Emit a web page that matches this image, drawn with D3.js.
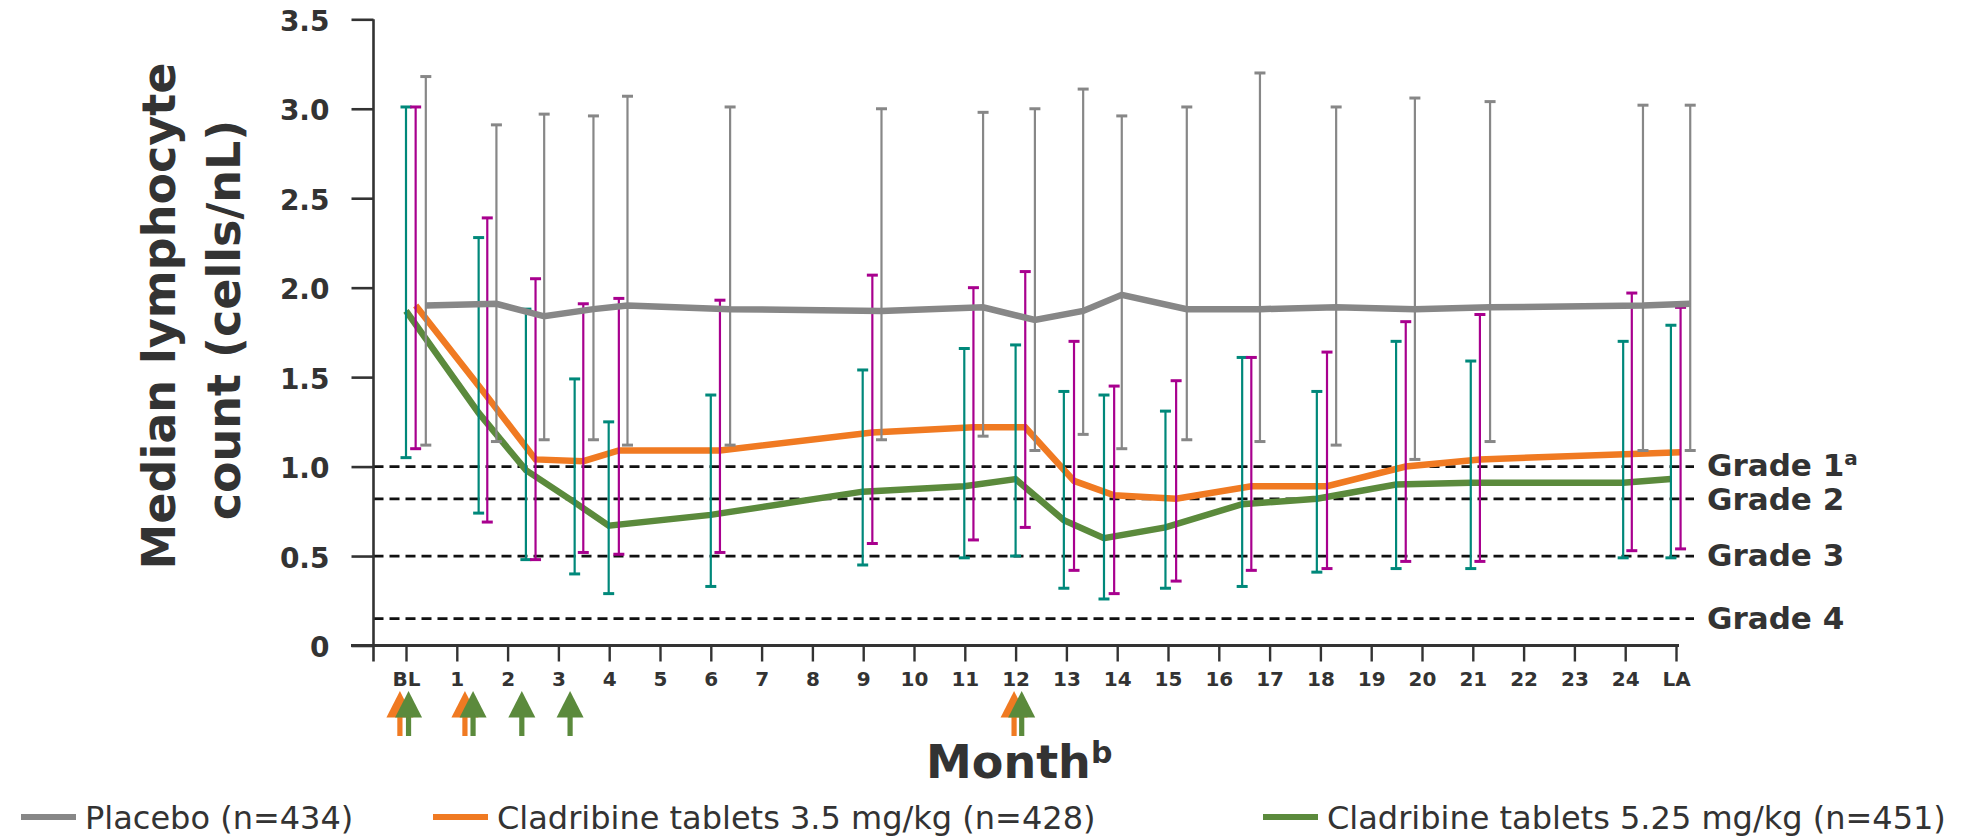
<!DOCTYPE html>
<html>
<head>
<meta charset="utf-8">
<script src="https://cdn.jsdelivr.net/npm/d3@7/dist/d3.min.js"></script>
<style>
  html, body { margin: 0; padding: 0; background: #fff; }
  svg { display: block; }
  text { font-family: "DejaVu Sans", Verdana, sans-serif; fill: #333; }
</style>
</head>
<body>
<svg id="chart" width="1964" height="837"></svg>
<script>
// Month axis: BL = 0, months 1..24, LA (last assessment) = 25
const monthTickValues = d3.range(0, 26);
const monthTickLabels = ["BL", "1", "2", "3", "4", "5", "6", "7", "8", "9", "10", "11", "12",
  "13", "14", "15", "16", "17", "18", "19", "20", "21", "22", "23", "24", "LA"];
const yTickValues = [0, 0.5, 1.0, 1.5, 2.0, 2.5, 3.0, 3.5];
const yTickLabels = ["0", "0.5", "1.0", "1.5", "2.0", "2.5", "3.0", "3.5"];

// Placebo (n=434)
const placeboMonths = [0.39, 1.78, 2.72, 3.69, 4.36, 6.38, 9.36, 11.36, 12.38, 13.33, 14.09, 15.37, 16.81, 18.31, 19.86, 21.34, 24.35, 25.28];
const placeboMedian = [1.90, 1.91, 1.84, 1.88, 1.90, 1.88, 1.87, 1.89, 1.82, 1.87, 1.96, 1.88, 1.88, 1.89, 1.88, 1.89, 1.90, 1.91];
const placeboLow    = [1.12, 1.14, 1.15, 1.15, 1.12, 1.12, 1.15, 1.17, 1.09, 1.18, 1.10, 1.15, 1.14, 1.12, 1.04, 1.14, 1.09, 1.09];
const placeboHigh   = [3.18, 2.91, 2.97, 2.96, 3.07, 3.01, 3.00, 2.98, 3.00, 3.11, 2.96, 3.01, 3.20, 3.01, 3.06, 3.04, 3.02, 3.02];

// Cladribine tablets 3.5 mg/kg (n=428)
const clad35Months = [0.19, 1.60, 2.55, 3.49, 4.19, 6.18, 9.18, 11.17, 12.19, 13.15, 13.94, 15.16, 16.64, 18.13, 19.68, 21.14, 24.13, 25.09];
const clad35Median = [1.90, 1.39, 1.04, 1.03, 1.09, 1.09, 1.19, 1.22, 1.22, 0.92, 0.84, 0.82, 0.89, 0.89, 1.00, 1.04, 1.07, 1.08];
const clad35Low    = [1.10, 0.69, 0.48, 0.52, 0.51, 0.52, 0.57, 0.59, 0.66, 0.42, 0.29, 0.36, 0.42, 0.43, 0.47, 0.47, 0.53, 0.54];
const clad35High   = [3.01, 2.39, 2.05, 1.91, 1.94, 1.93, 2.07, 2.00, 2.09, 1.70, 1.45, 1.48, 1.61, 1.64, 1.81, 1.85, 1.97, 1.89];

// Cladribine tablets 5.25 mg/kg (n=451)
const clad525Months = [0.0, 1.43, 2.36, 3.32, 3.99, 6.00, 8.99, 10.99, 12.0, 12.95, 13.74, 14.95, 16.46, 17.93, 19.49, 20.96, 23.96, 24.90];
const clad525Median = [1.87, 1.30, 0.98, 0.80, 0.67, 0.73, 0.86, 0.89, 0.93, 0.70, 0.60, 0.66, 0.79, 0.82, 0.90, 0.91, 0.91, 0.93];
const clad525Low    = [1.05, 0.74, 0.48, 0.40, 0.29, 0.33, 0.45, 0.49, 0.50, 0.32, 0.26, 0.32, 0.33, 0.41, 0.43, 0.43, 0.49, 0.49];
const clad525High   = [3.01, 2.28, 1.88, 1.49, 1.25, 1.40, 1.54, 1.66, 1.68, 1.42, 1.40, 1.31, 1.61, 1.42, 1.70, 1.59, 1.70, 1.79];

// Dosing arrows (months)
const clad35Doses = [-0.12, 1.16, 11.97];
const clad525Doses = [0.05, 1.32, 2.28, 3.23, 12.12];

// Lymphopenia grade thresholds (cells/nL)
const gradeLevels = [1.0, 0.82, 0.5, 0.15];
const gradeLabels = ["Grade 1", "Grade 2", "Grade 3", "Grade 4"];
const gradeMarks  = ["a", "", "", ""];
const gradeNudge  = [-1, 1, 0, 0];

const legendLabels = ["Placebo (n=434)", "Cladribine tablets 3.5 mg/kg (n=428)", "Cladribine tablets 5.25 mg/kg (n=451)"];

const colors = {
  placebo: "#878787",
  clad35: "#F07A22",
  clad525: "#5B8A3C",
  bar35: "#A8008E",
  bar525: "#00887A",
  ink: "#333333"
};

const svg = d3.select("#chart");
svg.append("rect").attr("width", 1964).attr("height", 837).attr("fill", "#fff");

const x = d3.scaleLinear().domain([0, 25]).range([406, 1676]);
const y = d3.scaleLinear().domain([0, 3.5]).range([645.5, 19.3]);
const axisLeftX = 373.5;

// Grade reference lines
const grades = svg.append("g");
grades.selectAll("line").data(gradeLevels).join("line")
  .attr("x1", axisLeftX).attr("x2", 1694)
  .attr("y1", d => y(d)).attr("y2", d => y(d))
  .attr("stroke", "#111").attr("stroke-width", 2.8)
  .attr("stroke-dasharray", "10,6");
const gl = grades.selectAll("text").data(gradeLevels).join("text")
  .attr("x", 1707).attr("y", (d, i) => y(d) + 10 + gradeNudge[i])
  .attr("font-size", 31).attr("font-weight", "bold");
gl.append("tspan").text((d, i) => gradeLabels[i]);
gl.append("tspan").attr("font-size", 20).attr("dy", -11).text((d, i) => gradeMarks[i]);

// Median lines
const line = d3.line().x(d => x(d[0])).y(d => y(d[1]));
function drawLine(months, med, color) {
  svg.append("path")
    .attr("d", line(months.map((m, i) => [m, med[i]])))
    .attr("fill", "none").attr("stroke", color)
    .attr("stroke-width", 6.5).attr("stroke-linejoin", "miter");
}

// Error bars (range whiskers with caps)
function drawBars(months, low, high, color) {
  const g = svg.append("g").attr("stroke", color);
  const d = months.map((m, i) => ({ m, lo: low[i], hi: high[i] }));
  g.selectAll("line.v").data(d).join("line").attr("class", "v")
    .attr("x1", e => x(e.m)).attr("x2", e => x(e.m))
    .attr("y1", e => y(e.lo)).attr("y2", e => y(e.hi))
    .attr("stroke-width", 2.2);
  ["lo", "hi"].forEach(k => {
    g.selectAll("line.c" + k).data(d).join("line").attr("class", "c" + k)
      .attr("x1", e => x(e.m) - 5.5).attr("x2", e => x(e.m) + 5.5)
      .attr("y1", e => y(e[k])).attr("y2", e => y(e[k]))
      .attr("stroke-width", 3);
  });
}

drawLine(clad35Months, clad35Median, colors.clad35);
drawLine(clad525Months, clad525Median, colors.clad525);
drawBars(clad525Months, clad525Low, clad525High, colors.bar525);
drawBars(clad35Months, clad35Low, clad35High, colors.bar35);
drawBars(placeboMonths, placeboLow, placeboHigh, colors.placebo);
drawLine(placeboMonths, placeboMedian, colors.placebo);

// Y axis
const yAxis = svg.append("g").attr("transform", `translate(${axisLeftX},0)`)
  .call(d3.axisLeft(y).tickValues(yTickValues).tickSize(22).tickPadding(22)
    .tickFormat((d, i) => yTickLabels[i]));
yAxis.select(".domain").remove();
yAxis.selectAll(".tick line").attr("stroke", colors.ink).attr("stroke-width", 2.6);
yAxis.selectAll(".tick text").attr("font-size", 28).attr("font-weight", "bold")
  .attr("font-family", "DejaVu Sans, sans-serif").attr("fill", colors.ink).attr("dy", "0.4em");
svg.append("line")
  .attr("x1", axisLeftX).attr("x2", axisLeftX)
  .attr("y1", y(3.5)).attr("y2", y(0) + 16)
  .attr("stroke", colors.ink).attr("stroke-width", 2.6);

// X axis
const xAxis = svg.append("g").attr("transform", `translate(0,${y(0)})`)
  .call(d3.axisBottom(x).tickValues(monthTickValues).tickSize(16).tickPadding(10)
    .tickFormat((d, i) => monthTickLabels[i]));
xAxis.select(".domain").remove();
xAxis.selectAll(".tick line").attr("stroke", colors.ink).attr("stroke-width", 2.4);
xAxis.selectAll(".tick text").attr("font-size", 20).attr("font-weight", "bold")
  .attr("font-family", "DejaVu Sans, sans-serif").attr("fill", colors.ink).attr("dy", "0.72em");
svg.append("line")
  .attr("x1", 351).attr("x2", 1679)
  .attr("y1", y(0)).attr("y2", y(0))
  .attr("stroke", colors.ink).attr("stroke-width", 3);

// Dosing arrows
function drawArrows(months, color) {
  const g = svg.append("g").attr("fill", color);
  months.forEach(m => {
    const cx = x(m);
    g.append("path").attr("d", `M${cx},691 L${cx + 13.5},717.5 L${cx - 13.5},717.5 Z`);
    g.append("rect").attr("x", cx - 2.6).attr("y", 717).attr("width", 5.2).attr("height", 19);
  });
}
drawArrows(clad35Doses, colors.clad35);
drawArrows(clad525Doses, colors.clad525);

// Axis titles
const yt = svg.append("g").attr("font-size", 46).attr("font-weight", "bold");
yt.append("text").attr("transform", "translate(175,316) rotate(-90)")
  .attr("text-anchor", "middle").text("Median lymphocyte");
yt.append("text").attr("transform", "translate(240,320) rotate(-90)")
  .attr("text-anchor", "middle").text("count (cells/nL)");

const xt = svg.append("text").attr("x", 926).attr("y", 778)
  .attr("font-size", 46).attr("font-weight", "bold");
xt.append("tspan").text("Month");
xt.append("tspan").attr("font-size", 30).attr("dy", -15).text("b");

// Legend
const legendItems = [
  { label: legendLabels[0], color: colors.placebo, x: 21 },
  { label: legendLabels[1], color: colors.clad35, x: 433 },
  { label: legendLabels[2], color: colors.clad525, x: 1263 }
];
const lg = svg.append("g");
legendItems.forEach(it => {
  lg.append("line").attr("x1", it.x).attr("x2", it.x + 55)
    .attr("y1", 817).attr("y2", 817)
    .attr("stroke", it.color).attr("stroke-width", 6);
  lg.append("text").attr("x", it.x + 64).attr("y", 829)
    .attr("font-size", 32).text(it.label);
});
</script>
</body>
</html>
